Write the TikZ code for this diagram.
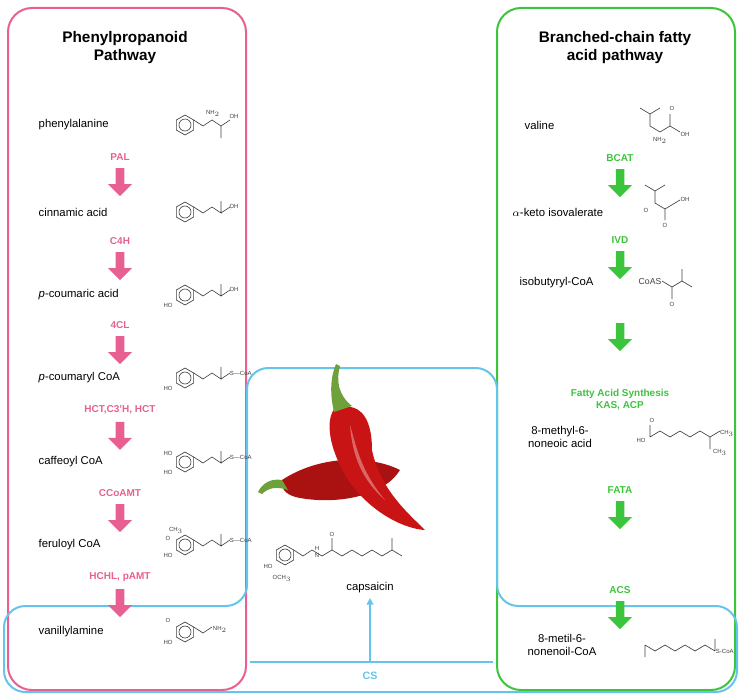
\documentclass[tikz,border=0pt]{standalone}
\usepackage{fontspec}
\setmainfont{Liberation Sans}
\usetikzlibrary{shapes.arrows, arrows.meta, positioning}
\definecolor{pinkpath}{RGB}{232,96,146}
\definecolor{greenpath}{RGB}{60,196,60}
\definecolor{bluepath}{RGB}{100,196,236}
\definecolor{pepper}{RGB}{200,20,20}
\definecolor{stem}{RGB}{110,160,60}
\tikzset{
  cmpd/.style={font=\fontsize{8.5}{10}\selectfont, align=left},
  enz/.style={font=\fontsize{7.5}{9}\selectfont\bfseries, align=center},
  ttl/.style={font=\fontsize{11.5}{13.5}\selectfont\bfseries, align=center},
  bigarrow/.style={single arrow, fill=#1, draw=none, minimum height=21pt, minimum width=18pt,
    single arrow head extend=4pt, shape border rotate=270, inner sep=2pt},
  bond/.style={line width=0.5pt, black!75},
  ring/.pic={\draw[bond] (30:10)--(90:10)--(150:10)--(210:10)--(270:10)--(330:10)--cycle;
    \draw[bond] (0,0) circle (6);},
  atom/.style={font=\fontsize{4.5}{5}\selectfont, inner sep=0.5pt, black!75}
}
\begin{document}
\begin{tikzpicture}[x=0.75pt, y=-0.75pt]
	\useasboundingbox (0,0) rectangle (741,699);

	% Rahmen
	\draw[pinkpath, line width=1.5pt, rounded corners=18pt] (8,8) rectangle (246,690);
	\draw[greenpath, line width=1.5pt, rounded corners=18pt] (497,8) rectangle (735,690);
	\draw[bluepath, line width=1.5pt, rounded corners=16pt]
		(247,606) -- (247,368) -- (497,368) -- (497,606) -- (737,606) -- (737,692) -- (4,692) -- (4,606) -- cycle;

	% Titel
	\node[ttl] (tp) at (125,48) {Phenylpropanoid\\Pathway};
	\node[ttl] (tg) at (615,48) {Branched-chain fatty\\acid pathway};

	% Phenylpropanoid
	\node[cmpd, anchor=west] (phe) at (34,125) {phenylalanine};
	\node[cmpd, anchor=west] (cin) at (34,212) {cinnamic acid};
	\node[cmpd, anchor=west] (pca) at (34,295) {\textit{p}-coumaric acid};
	\node[cmpd, anchor=west] (pcc) at (34,378) {\textit{p}-coumaryl CoA};
	\node[cmpd, anchor=west] (caf) at (34,462) {caffeoyl CoA};
	\node[cmpd, anchor=west] (fer) at (34,545) {feruloyl CoA};
	\node[cmpd, anchor=west] (van) at (34,632) {vanillylamine};

	\foreach \y/\e [count=\i] in {157/PAL, 241/C4H, 325/4CL, 410/{HCT,C3'H, HCT}, 493/CCoAMT, 577/{HCHL, pAMT}}{
		\node[enz, pinkpath] (pe\i) at (120,\y) {\e};
		\node[bigarrow=pinkpath, below=2pt of pe\i] (pa\i) {};
	}

	% Fettsaeure
	\node[cmpd, anchor=west] (val) at (520,125) {valine};
	\node[cmpd, anchor=west] (kiv) at (508,212) {$\alpha$-keto isovalerate};
	\node[cmpd, anchor=west] (iso) at (515,283) {isobutyryl-CoA};
	\node[cmpd, anchor=center, align=center] (mna) at (560,437) {8-methyl-6-\\noneoic acid};
	\node[cmpd, anchor=center, align=center] (mnc) at (562,645) {8-metil-6-\\nonenoil-CoA};

	\node[enz, greenpath] (ge1) at (620,158) {BCAT};
	\node[enz, greenpath] (ge2) at (620,240) {IVD};
	\node[enz, greenpath] (ge3) at (620,400) {Fatty Acid Synthesis\\KAS, ACP};
	\node[enz, greenpath] (ge4) at (620,490) {FATA};
	\node[enz, greenpath] (ge5) at (620,590) {ACS};
	\node[bigarrow=greenpath, below=2pt of ge1] (ga1) {};
	\node[bigarrow=greenpath, below=2pt of ge2] (ga2) {};
	\node[bigarrow=greenpath] (ga3) at (620,335) {};
	\node[bigarrow=greenpath, below=2pt of ge4] (ga4) {};
	\node[bigarrow=greenpath, below=2pt of ge5] (ga5) {};

	% Capsaicin
	\node[cmpd] (cap) at (370,588) {capsaicin};
	\node[enz, bluepath, font=\fontsize{8}{9}\selectfont\bfseries] (cs) at (370,676) {CS};
	\coordinate (csl) at (250,662);
	\coordinate (csr) at (493,662);
	\coordinate (csm) at (370,662);
	\draw[bluepath, line width=1.5pt] (csl) -- (csr);
	\draw[bluepath, line width=1.5pt, -{Triangle[length=5pt,width=5pt]}] (csm) -- (cap);

	% Paprika
	\fill[pepper!85!black] (282,480) .. controls (320,455) and (370,455) .. (400,470)
		.. controls (385,495) and (340,505) .. (300,498) .. controls (288,496) and (280,490) .. (282,480);
	\fill[stem] (282,480) .. controls (270,478) and (262,484) .. (258,492) -- (262,494) .. controls (268,488) and (276,486) .. (288,490) -- cycle;
	\fill[pepper] (335,408) .. controls (365,400) and (372,425) .. (372,450)
		.. controls (380,490) and (410,515) .. (425,530) .. controls (395,528) and (355,500) .. (340,465)
		.. controls (330,445) and (325,420) .. (335,408);
	\fill[stem] (334,412) .. controls (330,395) and (330,378) .. (336,364) -- (340,366)
		.. controls (336,380) and (338,395) .. (352,406) -- cycle;
	\fill[white, opacity=0.35] (350,425) .. controls (356,445) and (360,470) .. (385,500) .. controls (362,480) and (352,455) .. (350,425);

	% Strukturen Phenylpropanoid
	\pic at (185,125) {ring};
	\draw[bond] (193.7,120) -- (203,126) -- (212,120) -- (221,126) -- (221,138) (221,126) -- (230,120);
	\node[atom] at (213,113) {NH$_2$};
	\node[atom] at (234,116) {OH};
	\foreach \y in {212,295,378,462,545,632}{
		\pic at (185,\y) {ring};
	}
	\draw[bond] (193.7,207) -- (203,213) -- (212,207) -- (221,213) -- (221,201) (221,213) -- (230,207);
	\node[atom] at (234,206) {OH};
	\draw[bond] (193.7,290) -- (203,296) -- (212,290) -- (221,296) -- (221,284) (221,296) -- (230,290);
	\node[atom] at (234,289) {OH}; \node[atom] at (168,305) {HO};
	\foreach \y in {378,462,545}{
		\draw[bond] (193.7,\y-5) -- (203,\y+1) -- (212,\y-5) -- (221,\y+1) -- (221,\y-11) (221,\y+1) -- (230,\y-5);
		\node[atom, anchor=west] at (229,\y-5) {S---CoA};
	}
	\node[atom] at (168,388) {HO};
	\node[atom] at (168,472) {HO}; \node[atom] at (168,453) {HO};
	\node[atom] at (168,555) {HO}; \node[atom] at (176,530) {CH$_3$}; \node[atom] at (168,538) {O};
	\draw[bond] (193.7,627) -- (203,633) -- (212,627);
	\node[atom, anchor=west] at (212,629) {NH$_2$};
	\node[atom] at (168,642) {HO}; \node[atom] at (168,620) {O};

	% Strukturen Fettsaeure
	\draw[bond] (640,108) -- (650,114) -- (660,108) (650,114) -- (650,126) -- (660,132) -- (670,126) -- (670,114) (670,126) -- (680,132);
	\node[atom] at (660,140) {NH$_2$}; \node[atom] at (685,134) {OH}; \node[atom] at (672,108) {O};
	\draw[bond] (645,185) -- (655,191) -- (665,185) (655,191) -- (655,203) -- (665,209) -- (675,203) -- (680,200) (665,209) -- (665,220);
	\node[atom] at (646,210) {O}; \node[atom] at (685,199) {OH}; \node[atom] at (665,225) {O};
	\node[atom, font=\fontsize{6.5}{7}\selectfont] at (650,282) {CoAS};
	\draw[bond] (662,281) -- (672,287) -- (682,281) -- (692,287) (682,281) -- (682,269) (672,287) -- (672,299);
	\node[atom] at (672,304) {O};
	\draw[bond] (650,437) -- (660,431) -- (670,437) -- (680,431) -- (690,437) -- (700,431) -- (710,437) -- (720,431)
		(710,437) -- (710,449) (650,437) -- (650,425);
	\node[atom] at (641,440) {HO}; \node[atom] at (652,420) {O};
	\node[atom] at (727,433) {CH$_3$}; \node[atom] at (720,452) {CH$_3$};
	\draw[bond] (645,645) -- (655,651) -- (665,645) -- (675,651) -- (685,645) -- (695,651) -- (705,645) -- (715,651)
		(645,645) -- (645,657) (715,651) -- (715,639);
	\node[atom, anchor=west] at (715,651) {S-CoA};

	% Capsaicin-Struktur
	\pic at (285,555) {ring};
	\draw[bond] (293.7,550) -- (303,556) -- (312,550) -- (322,556) -- (332,550) -- (342,556) -- (352,550)
		-- (362,556) -- (372,550) -- (382,556) -- (392,550) -- (402,556) (332,550) -- (332,538) (392,550) -- (392,538);
	\node[atom] at (317,548) {H}; \node[atom] at (317,555) {N}; \node[atom] at (332,534) {O};
	\node[atom] at (268,566) {HO}; \node[atom] at (282,578) {OCH$_3$};
\end{tikzpicture}
\end{document}
